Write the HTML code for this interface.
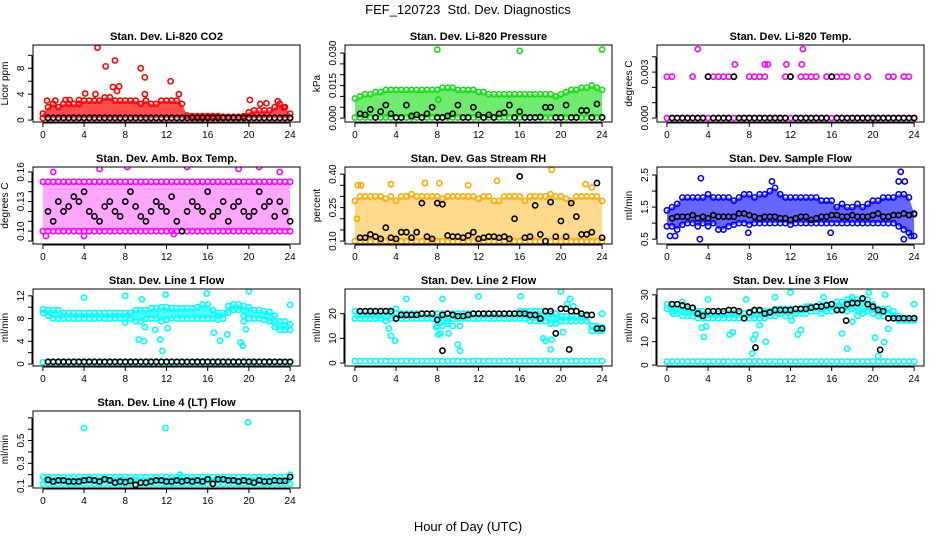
<!DOCTYPE html>
<html><head><meta charset="utf-8"><style>
html,body{margin:0;padding:0;background:#fff}
svg{display:block;font-family:"Liberation Sans",sans-serif}
</style></head><body>
<svg id="chart" width="936" height="540" viewBox="0 0 936 540" xmlns="http://www.w3.org/2000/svg">
<rect width="936" height="540" fill="#fff"/>
<text x="468" y="14" text-anchor="middle" font-size="13">FEF_120723&#160; Std. Dev. Diagnostics</text>
<text x="468" y="531" text-anchor="middle" font-size="13">Hour of Day (UTC)</text>
</svg>
<script>
const hours=[0,0.5,1,1.5,2,2.5,3,3.5,4,4.5,5,5.5,6,6.5,7,7.5,8,8.5,9,9.5,10,10.5,11,11.5,12,12.5,13,13.5,14,14.5,15,15.5,16,16.5,17,17.5,18,18.5,19,19.5,20,20.5,21,21.5,22,22.5,23,23.5,24];
const xTicks=[0,4,8,12,16,20,24];

const co2Hi=[1,2,2.5,2,2.5,2.5,2.5,2.5,3,3,3,3,3.5,3.5,3,3,3,3,3,2.5,3,2.5,2.5,3,3,3,3,2.5,0.7,0.6,0.6,0.6,0.6,0.6,0.6,0.5,0.5,0.5,0.5,0.6,1.2,1.5,1.5,1.5,1.5,2,2.5,2,1];
const co2Lo=[0.3,0.3,0.3,0.3,0.3,0.3,0.3,0.3,0.3,0.3,0.3,0.3,0.3,0.3,0.3,0.3,0.3,0.3,0.3,0.3,0.3,0.3,0.3,0.3,0.3,0.3,0.3,0.3,0.3,0.3,0.3,0.3,0.3,0.3,0.3,0.3,0.3,0.3,0.3,0.3,0.3,0.3,0.3,0.3,0.3,0.3,0.3,0.3,0.3];
const co2Black=[0.35,0.35,0.35,0.35,0.35,0.35,0.35,0.35,0.35,0.35,0.35,0.35,0.35,0.35,0.35,0.35,0.35,0.35,0.35,0.35,0.35,0.35,0.35,0.35,0.35,0.35,0.35,0.35,0.35,0.35,0.35,0.35,0.35,0.35,0.35,0.35,0.35,0.35,0.35,0.35,0.35,0.35,0.35,0.35,0.35,0.35,0.35,0.35,0.35];
const co2OutX=[0.4,1.2,2.2,2.6,3.5,4.1,5.3,5.1,6.1,6.8,7,7.2,7.4,9.5,9.9,9.9,12.4,13.2,20.1,21.1,21.7,22.8,23.4];
const co2OutY=[3,3,3.1,3.1,3.1,4.1,11.2,4,8.3,5.1,9.2,4.5,5.2,8,6.6,4,6,4,3.1,2.5,2.6,2.9,1.9];

const presHi=[0.009,0.01,0.011,0.011,0.012,0.012,0.013,0.013,0.013,0.013,0.013,0.013,0.013,0.013,0.013,0.013,0.013,0.014,0.014,0.014,0.013,0.013,0.013,0.013,0.012,0.012,0.011,0.011,0.011,0.011,0.011,0.011,0.011,0.011,0.011,0.011,0.011,0.011,0.011,0.01,0.011,0.012,0.013,0.013,0.014,0.014,0.015,0.014,0.013];
const presLo=[0.0003,0.0003,0.0003,0.0003,0.0003,0.0003,0.0003,0.0003,0.0003,0.0003,0.0003,0.0003,0.0003,0.0003,0.0003,0.0003,0.0003,0.0003,0.0003,0.0003,0.0003,0.0003,0.0003,0.0003,0.0003,0.0003,0.0003,0.0003,0.0003,0.0003,0.0003,0.0003,0.0003,0.0003,0.0003,0.0003,0.0003,0.0003,0.0003,0.0003,0.0003,0.0003,0.0003,0.0003,0.0003,0.0003,0.0003,0.0003,0.0003];
const presBlack=[0.0003,0.002,0.0015,0.004,0.0003,0.003,0.006,0.002,0.0003,0.0003,0.006,0.001,0.0015,0.0003,0.002,0.005,0.0003,0.0003,0.001,0.002,0.006,0.0003,0.0003,0.005,0.0015,0.0003,0.0015,0.0003,0.002,0.0025,0.006,0.0003,0.003,0.0003,0.0003,0.0003,0.0005,0.005,0.005,0.0003,0.0003,0.006,0.0003,0.0003,0.0035,0.0035,0.0003,0.0065,0.0003];
const presOutX=[8,16,24,8.1];
const presOutY=[0.0316,0.031,0.0316,0.0085];

const tempHi=[0.0027,0.0027,0,0,0,0.0027,0,0,0.0027,0.0027,0.0027,0.0027,0.0027,0.0027,0,0,0.0027,0.0027,0.0027,0.0027,0,0,0,0.0027,0.0027,0,0.0027,0.0027,0.0027,0.0027,0,0.0027,0.0027,0.0027,0.0027,0.0027,0,0.0027,0,0.0027,0,0,0,0.0027,0.0027,0,0.0027,0.0027,0];
const tempLo=[0,0,0,0,0,0,0,0,0,0,0,0,0,0,0,0,0,0,0,0,0,0,0,0,0,0,0,0,0,0,0,0,0,0,0,0,0,0,0,0,0,0,0,0,0,0,0,0,0];
const tempBlack=[0,0,0,0,0,0,0,0,0.0027,0,0,0,0,0.0027,0,0,0,0,0,0,0,0,0,0,0.0027,0,0,0,0,0,0,0,0.0027,0,0,0,0,0,0,0,0,0,0,0,0,0,0,0,0];
const tempOutX=[3,13.2,6.6,9.5,9.8,11.6,13.1];
const tempOutY=[0.0045,0.0045,0.0035,0.0035,0.0035,0.0035,0.0035];

const ambHi=[0.15,0.15,0.15,0.15,0.15,0.15,0.15,0.15,0.15,0.15,0.15,0.15,0.15,0.15,0.15,0.15,0.15,0.15,0.15,0.15,0.15,0.15,0.15,0.15,0.15,0.15,0.15,0.15,0.15,0.15,0.15,0.15,0.15,0.15,0.15,0.15,0.15,0.15,0.15,0.15,0.15,0.15,0.15,0.15,0.15,0.15,0.15,0.15,0.15];
const ambLo=[0.1,0.1,0.1,0.1,0.1,0.1,0.1,0.1,0.1,0.1,0.1,0.1,0.1,0.1,0.1,0.1,0.1,0.1,0.1,0.1,0.1,0.1,0.1,0.1,0.1,0.1,0.1,0.1,0.1,0.1,0.1,0.1,0.1,0.1,0.1,0.1,0.1,0.1,0.1,0.1,0.1,0.1,0.1,0.1,0.1,0.1,0.1,0.1,0.1];
const ambBlack=[0.115,0.12,0.11,0.13,0.12,0.125,0.135,0.13,0.14,0.12,0.115,0.11,0.125,0.13,0.12,0.115,0.13,0.14,0.125,0.115,0.11,0.12,0.13,0.125,0.12,0.135,0.11,0.1,0.12,0.13,0.125,0.12,0.14,0.115,0.12,0.13,0.11,0.125,0.13,0.12,0.115,0.12,0.14,0.125,0.13,0.115,0.13,0.12,0.11];
const ambOutX=[0.3,4,12.7,8.2,14,19,21,23,1,5.5];
const ambOutY=[0.095,0.095,0.097,0.165,0.165,0.163,0.165,0.16,0.16,0.163];

const rhHi=[0.28,0.3,0.3,0.3,0.3,0.3,0.29,0.3,0.28,0.3,0.3,0.31,0.3,0.3,0.3,0.3,0.3,0.29,0.3,0.3,0.3,0.3,0.3,0.3,0.29,0.3,0.3,0.28,0.28,0.3,0.3,0.3,0.3,0.28,0.3,0.3,0.3,0.3,0.31,0.3,0.3,0.29,0.28,0.3,0.3,0.3,0.3,0.3,0.28];
const rhLo=[0.1,0.1,0.1,0.1,0.1,0.1,0.1,0.1,0.1,0.1,0.1,0.1,0.1,0.1,0.1,0.1,0.1,0.1,0.1,0.1,0.1,0.1,0.1,0.1,0.1,0.1,0.1,0.1,0.1,0.1,0.1,0.1,0.1,0.1,0.1,0.1,0.1,0.1,0.1,0.1,0.1,0.1,0.1,0.1,0.1,0.1,0.1,0.1,0.1];
const rhBlack=[0.12,0.115,0.115,0.13,0.12,0.11,0.16,0.115,0.11,0.14,0.14,0.115,0.14,0.27,0.12,0.11,0.27,0.265,0.125,0.12,0.12,0.115,0.125,0.14,0.11,0.115,0.12,0.12,0.115,0.12,0.11,0.2,0.39,0.115,0.12,0.26,0.13,0.1,0.275,0.12,0.19,0.12,0.27,0.21,0.13,0.13,0.14,0.36,0.115];
const rhOutX=[0.3,0.6,3.5,6.8,8.2,11,13.8,19.1,22.4,0.2,23];
const rhOutY=[0.35,0.35,0.355,0.36,0.36,0.35,0.37,0.42,0.355,0.2,0.34];

const sfHi=[1.4,1.5,1.6,1.8,1.8,1.8,1.8,1.8,1.9,1.8,1.8,1.8,1.8,1.7,1.8,1.9,1.9,1.8,1.9,1.9,2.0,2.1,1.9,1.8,1.8,1.8,1.8,1.8,1.8,1.8,1.7,1.7,1.7,1.5,1.6,1.5,1.5,1.6,1.5,1.6,1.7,1.7,1.8,1.8,1.8,1.9,1.9,1.8,1.3];
const sfLo=[0.9,0.9,0.8,0.95,1,1,0.9,1,0.9,1,0.8,0.8,0.9,0.95,1,1,0.95,1,1,1,1,1,1,1,0.95,1,1,1,1,1,1,1,1,1,1,1,1,1,1,1,1,1,1,1,1,0.9,0.8,0.7,0.6];
const sfBlack=[1.2,1.15,1.2,1.2,1.2,1.25,1.15,1.2,1.15,1.25,1.2,1.2,1.2,1.2,1.3,1.3,1.25,1.2,1.15,1.2,1.2,1.2,1.15,1.15,1.1,1.15,1.2,1.2,1.1,1.15,1.2,1.2,1.25,1.25,1.2,1.2,1.25,1.2,1.2,1.2,1.25,1.3,1.2,1.2,1.25,1.25,1.3,1.25,1.28];
const sfOutX=[0.3,0.8,3.2,3.3,10.2,7.9,15.9,22.7,22.5,23.1,23,23.7];
const sfOutY=[0.6,0.6,0.5,2.4,2.3,0.7,0.7,2.6,2.3,2.3,0.5,0.6];

const l1Hi=[9.6,9.5,9.5,9.5,9,9,9,9,9,9,9,9,9,9,9,9,9,9,9.5,9.5,9.5,9.8,9.8,10,10,9.8,9.8,9.8,9.8,9.8,10,10.5,10.5,9.5,9,9,10.2,10.5,10.5,10.2,10,9.5,9.5,9.3,9.2,8.5,7.5,7.5,7];
const l1Lo=[9,8.5,8,8,8,8,8,8,8,8,8,8,8,8,8,8,8,8,7.5,7.5,8,8,8,7.5,7.8,8,8,8,8,8,8,8,8,8,7.8,8,9,9.5,9.5,8.5,8,8,8,7.8,7.5,6.5,6,6,6];
const l1Base=[0.3,0.3,0.3,0.3,0.3,0.3,0.3,0.3,0.3,0.3,0.3,0.3,0.3,0.3,0.3,0.3,0.3,0.3,0.3,0.3,0.3,0.3,0.3,0.3,0.3,0.3,0.3,0.3,0.3,0.3,0.3,0.3,0.3,0.3,0.3,0.3,0.3,0.3,0.3,0.3,0.3,0.3,0.3,0.3,0.3,0.3,0.3,0.3,0.3];
const l1Black=[0.4,0.4,0.4,0.4,0.4,0.4,0.4,0.4,0.4,0.4,0.4,0.4,0.4,0.4,0.4,0.4,0.4,0.4,0.4,0.4,0.4,0.4,0.4,0.4,0.4,0.4,0.4,0.4,0.4,0.4,0.4,0.4,0.4,0.4,0.4,0.4,0.4,0.4,0.4,0.4,0.4,0.4,0.4,0.4,0.4,0.4,0.4,0.4,0.4];
const l1OutX=[4,8,9.6,11.9,15.9,20,24,9.3,9.8,9.9,10.9,11.4,11.6,12.1,16.6,17.2,19.2,19.4,19.5,19.7,17.9,8];
const l1OutY=[11.7,12,11.4,12.2,12.4,12.8,10.4,4.3,4,6.5,6,4.3,2.3,6.3,5.5,4.1,3.8,3.2,7.5,6.1,5.2,7.3];

const l2Hi=[21,21,21,21,21,21,21,20,20,20,20,20,20,20,20,20,20,20,20,20,20,20,20,20,20,20,20,20,20,20,20,20,21,21,21,21,21,21,20,20,19,19,19,19,19,19,15,15,14.5];
const l2Lo=[18,18,18,18,18,18,17,18,18,18,18,18,18,18,18,18,15,15,17,18,18,18,18,18,18,18,18,18,18,18,18,18,18,18,17,17,17,17,16,16,17,17,17,17,17,17,13,13,13];
const l2Base=[0.8,0.8,0.8,0.8,0.8,0.8,0.8,0.8,0.8,0.8,0.8,0.8,0.8,0.8,0.8,0.8,0.8,0.8,0.8,0.8,0.8,0.8,0.8,0.8,0.8,0.8,0.8,0.8,0.8,0.8,0.8,0.8,0.8,0.8,0.8,0.8,0.8,0.8,0.8,0.8,0.8,0.8,0.8,0.8,0.8,0.8,0.8,0.8,0.8];
const l2Black=[21,21,21,21,21,21,21,21,18,19.5,19.5,19.5,19.5,20,20,20,17.5,19.5,20,19.5,19,19,19.5,20,20,20,20,20,20,20,20,20,20,20,19.5,19.5,18,21,21,12,22,22,21,21,20,19.5,19.5,14,14];
const l2OutX=[3.3,3.5,3.9,4,5,7.9,8.5,8.1,8.3,9,9.1,9.5,10,10.2,10.2,12,16.1,18.3,18.5,19.1,19,20.2,20.6,20.9,20,24,21.2];
const l2OutY=[14,11,9,22,26,14.5,26,11.5,12,16,12,15,7.5,15,5,27,27,10,9,9.5,5.5,12.5,24,26,29,20,23];
const l2BlackOutX=[8.5,20.8];
const l2BlackOutY=[5,5.5];

const l3Hi=[26,26,26,25,24,24,23,23,23,23,22,22,22,22,22,22,22,23,23,23,23,24,24,24,24,24,24,25,25,25,25,26,26,27,27,28,29,28,28,28,26,24,24,24,23,21,20,20,20];
const l3Lo=[24,23,22,21,21,21,20,20,20,20,20,20,20,20,20,20,20,20,20,20,21,21,22,21,21,22,22,22,23,23,22,23,23,24,24,23,24,21,22,23,22,21,21,22,21,19,19,19,19];
const l3Base=[1.5,1.5,1.5,1.5,1.5,1.5,1.5,1.5,1.5,1.5,1.5,1.5,1.5,1.5,1.5,1.5,1.5,1.5,1.5,1.5,1.5,1.5,1.5,1.5,1.5,1.5,1.5,1.5,1.5,1.5,1.5,1.5,1.5,1.5,1.5,1.5,1.5,1.5,1.5,1.5,1.5,1.5,1.5,1.5,1.5,1.5,1.5,1.5,1.5];
const l3Black=[26,26,26,25.5,25,24.5,22,21,23,23,23,23,23.5,23.5,23,20,22.5,23.5,23.5,22,22.5,23.5,23.5,23.5,23.5,24,24,24,24.5,25,25,25.5,26,23.5,23.5,26,26.5,26.5,28.5,26,25,23.5,23,20,20,20,20,20,20];
const l3OutX=[0.6,1.5,3.4,3.6,3.8,4,6.1,6.4,7.7,8.3,8.4,8.6,9,9.6,10.5,12,12.1,12.7,13,13.9,14.9,15.2,17,17.5,19.6,20.2,20.5,21.1,21.2,21.5,24,18];
const l3OutY=[22,27,16,12,16.5,28,13,14,28,5,11,13,17,10,29,31,19,13,15,25,26,29,13.5,7,31,11.7,3.8,9.8,30,15.5,26,18.5];
const l3BlackOutX=[8.6,20.7,17.4];
const l3BlackOutY=[7.5,6.5,19];

const l4Hi=[0.18,0.18,0.18,0.18,0.18,0.18,0.18,0.18,0.18,0.18,0.18,0.18,0.18,0.18,0.18,0.18,0.18,0.18,0.18,0.18,0.18,0.18,0.18,0.18,0.18,0.18,0.18,0.18,0.18,0.18,0.18,0.18,0.18,0.18,0.18,0.18,0.18,0.18,0.18,0.18,0.18,0.18,0.18,0.18,0.18,0.18,0.18,0.18,0.18];
const l4Lo=[0.12,0.12,0.12,0.12,0.12,0.12,0.12,0.12,0.12,0.12,0.12,0.12,0.12,0.12,0.12,0.12,0.12,0.12,0.12,0.12,0.12,0.12,0.12,0.12,0.12,0.12,0.12,0.12,0.12,0.12,0.12,0.12,0.12,0.12,0.12,0.12,0.12,0.12,0.12,0.12,0.12,0.12,0.12,0.12,0.12,0.12,0.12,0.12,0.12];
const l4Black=[0.15,0.155,0.14,0.15,0.15,0.14,0.14,0.14,0.15,0.155,0.15,0.14,0.16,0.15,0.13,0.14,0.135,0.145,0.11,0.13,0.13,0.14,0.15,0.15,0.14,0.14,0.15,0.14,0.15,0.14,0.15,0.14,0.16,0.12,0.16,0.16,0.15,0.15,0.14,0.15,0.14,0.13,0.15,0.14,0.14,0.15,0.145,0.145,0.18];
const l4OutX=[4,11.9,19.9,24,13.3];
const l4OutY=[0.61,0.61,0.66,0.2,0.2];

const panels=[
 {name:'co2',title:'Stan. Dev. Li-820 CO2',ylab:'Licor ppm',col:0,row:0,ylim:[-0.3,11.6],ticks:[0,2,4,6,8,10],labels:[0,4,8],fmt:0,color:'#ff0000',band:true,op:0.7,hi:co2Hi,lo:co2Lo,black:co2Black,ox:co2OutX,oy:co2OutY},
 {name:'pressure',title:'Stan. Dev. Li-820 Pressure',ylab:'kPa',col:1,row:0,ylim:[-0.0018,0.0337],ticks:[0,0.005,0.01,0.015,0.02,0.025,0.03],labels:[0,0.015,0.03],fmt:3,color:'#11dd11',band:true,op:0.6,hi:presHi,lo:presLo,black:presBlack,ox:presOutX,oy:presOutY},
 {name:'temp',title:'Stan. Dev. Li-820 Temp.',ylab:'degrees C',col:2,row:0,ylim:[-0.00026,0.00477],ticks:[0,0.001,0.002,0.003,0.004],labels:[0,0.003],fmt:3,color:'#ff00ff',band:false,op:0,hi:tempHi,lo:tempLo,black:tempBlack,ox:tempOutX,oy:tempOutY},
 {name:'amb-box',title:'Stan. Dev. Amb. Box Temp.',ylab:'degrees C',col:0,row:1,ylim:[0.087,0.165],ticks:[0.09,0.1,0.11,0.12,0.13,0.14,0.15,0.16],labels:[0.1,0.13,0.16],fmt:2,color:'#ff00ff',band:true,op:0.35,hi:ambHi,lo:ambLo,black:ambBlack,ox:ambOutX,oy:ambOutY},
 {name:'rh',title:'Stan. Dev. Gas Stream RH',ylab:'percent',col:1,row:1,ylim:[0.087,0.432],ticks:[0.1,0.15,0.2,0.25,0.3,0.35,0.4],labels:[0.1,0.25,0.4],fmt:2,color:'#ffaa00',band:true,op:0.45,hi:rhHi,lo:rhLo,black:rhBlack,ox:rhOutX,oy:rhOutY},
 {name:'sample-flow',title:'Stan. Dev. Sample Flow',ylab:'ml/min',col:2,row:1,ylim:[0.35,2.75],ticks:[0.5,1,1.5,2,2.5],labels:[0.5,1.5,2.5],fmt:1,color:'#0000ff',band:true,op:0.6,hi:sfHi,lo:sfLo,black:sfBlack,ox:sfOutX,oy:sfOutY},
 {name:'line1',title:'Stan. Dev. Line 1 Flow',ylab:'ml/min',col:0,row:2,ylim:[-0.35,13.2],ticks:[0,2,4,6,8,10,12],labels:[0,4,8,12],fmt:0,color:'#00ffff',band:true,op:0.7,hi:l1Hi,lo:l1Lo,base:l1Base,black:l1Black,ox:l1OutX,oy:l1OutY},
 {name:'line2',title:'Stan. Dev. Line 2 Flow',ylab:'ml/min',col:1,row:2,ylim:[-1.2,30],ticks:[0,10,20],labels:[0,10,20],fmt:0,color:'#00ffff',band:true,op:0.7,hi:l2Hi,lo:l2Lo,base:l2Base,black:l2Black,ox:l2OutX,oy:l2OutY,bx:l2BlackOutX,by:l2BlackOutY},
 {name:'line3',title:'Stan. Dev. Line 3 Flow',ylab:'ml/min',col:2,row:2,ylim:[-0.4,32.5],ticks:[0,10,20,30],labels:[0,10,20,30],fmt:0,color:'#00ffff',band:true,op:0.7,hi:l3Hi,lo:l3Lo,base:l3Base,black:l3Black,ox:l3OutX,oy:l3OutY,bx:l3BlackOutX,by:l3BlackOutY},
 {name:'line4',title:'Stan. Dev. Line 4 (LT) Flow',ylab:'ml/min',col:0,row:3,ylim:[0.083,0.76],ticks:[0.1,0.2,0.3,0.4,0.5,0.6,0.7],labels:[0.1,0.3,0.5],fmt:1,color:'#00ffff',band:true,op:0.7,hi:l4Hi,lo:l4Lo,black:l4Black,ox:l4OutX,oy:l4OutY}
];

const NS='http://www.w3.org/2000/svg';
const svg=document.getElementById('chart');
function mk(tag,attrs,parent){const e=document.createElementNS(NS,tag);for(const k in attrs)e.setAttribute(k,attrs[k]);(parent||svg).appendChild(e);return e;}

panels.forEach(p=>{
 const L=33+312*p.col, T=45+122*p.row, W=267, H=77;
 const g=mk('g',{});
 
 
 const xs=v=>L+W*(v+0.96)/25.92;
 const ys=v=>T+H-(v-p.ylim[0])/(p.ylim[1]-p.ylim[0])*H;
 const t=mk('text',{x:L+W/2,y:T-5,'text-anchor':'middle','font-size':'11','font-weight':'bold'},g);
 t.textContent=p.title;
 
 
 const yl=mk('text',{x:0,y:0,'text-anchor':'middle','font-size':'10',transform:`translate(${L-25},${T+H/2}) rotate(-90)`},g);
 yl.textContent=p.ylab;
 
 
 const xa=mk('g',{},g);
 
 
 mk('line',{x1:xs(0),x2:xs(24),y1:T+H+1,y2:T+H+1,stroke:'#000'},xa);
 xTicks.forEach(v=>{
  mk('line',{x1:xs(v),x2:xs(v),y1:T+H+1,y2:T+H+5,stroke:'#000'},xa);
  const tl=mk('text',{x:xs(v),y:T+H+16,'text-anchor':'middle','font-size':'10'},xa);
  tl.textContent=v;
  
  
 });
 const ya=mk('g',{},g);
 
 
 mk('line',{x1:L-1,x2:L-1,y1:ys(p.ticks[0]),y2:ys(p.ticks[p.ticks.length-1]),stroke:'#000'},ya);
 p.ticks.forEach(v=>mk('line',{x1:L-5,x2:L-1,y1:ys(v),y2:ys(v),stroke:'#000'},ya));
 p.labels.forEach(v=>{
  const tl=mk('text',{x:0,y:0,'text-anchor':'middle','font-size':'10',transform:`translate(${L-9},${ys(v)}) rotate(-90)`},ya);
  tl.textContent=v.toFixed(p.fmt);
  
  
 });
 const cid='clip-'+p.name;
 const cp=mk('clipPath',{id:cid},g);
 mk('rect',{x:L,y:T,width:W,height:H},cp);
 const pts=mk('g',{'clip-path':`url(#${cid})`},g);
 
 
 if(p.band){
  let d='M'+hours.map((h,i)=>xs(h)+','+ys(p.hi[i])).join('L')+'L'+hours.slice().reverse().map((h,j)=>xs(h)+','+ys(p.lo[hours.length-1-j])).join('L')+'Z';
  const b=mk('path',{d:d,fill:p.color,opacity:p.op},pts);
  
  
 }
 const circ=(x,y,c,name)=>{const e=mk('circle',{cx:xs(x),cy:ys(y),r:2.6,fill:'none',stroke:c,'stroke-width':1.6},pts);
  
  };
 hours.forEach((h,i)=>{
  circ(h,p.hi[i],p.color,'point');
  circ(h,p.lo[i],p.color,'point');
  if(p.base) circ(h,p.base[i],p.color,'point');
 });
 p.ox.forEach((x,i)=>circ(x,p.oy[i],p.color,'outlier-point'));
 hours.forEach((h,i)=>{if(h>0) circ(h,p.black[i],'#000','hourly-point');});
 if(p.bx) p.bx.forEach((x,i)=>circ(x,p.by[i],'#000','hourly-point'));
 mk('rect',{x:L,y:T,width:W,height:H,fill:'none',stroke:'#000','stroke-width':1},g);
});
</script>
</body></html>
